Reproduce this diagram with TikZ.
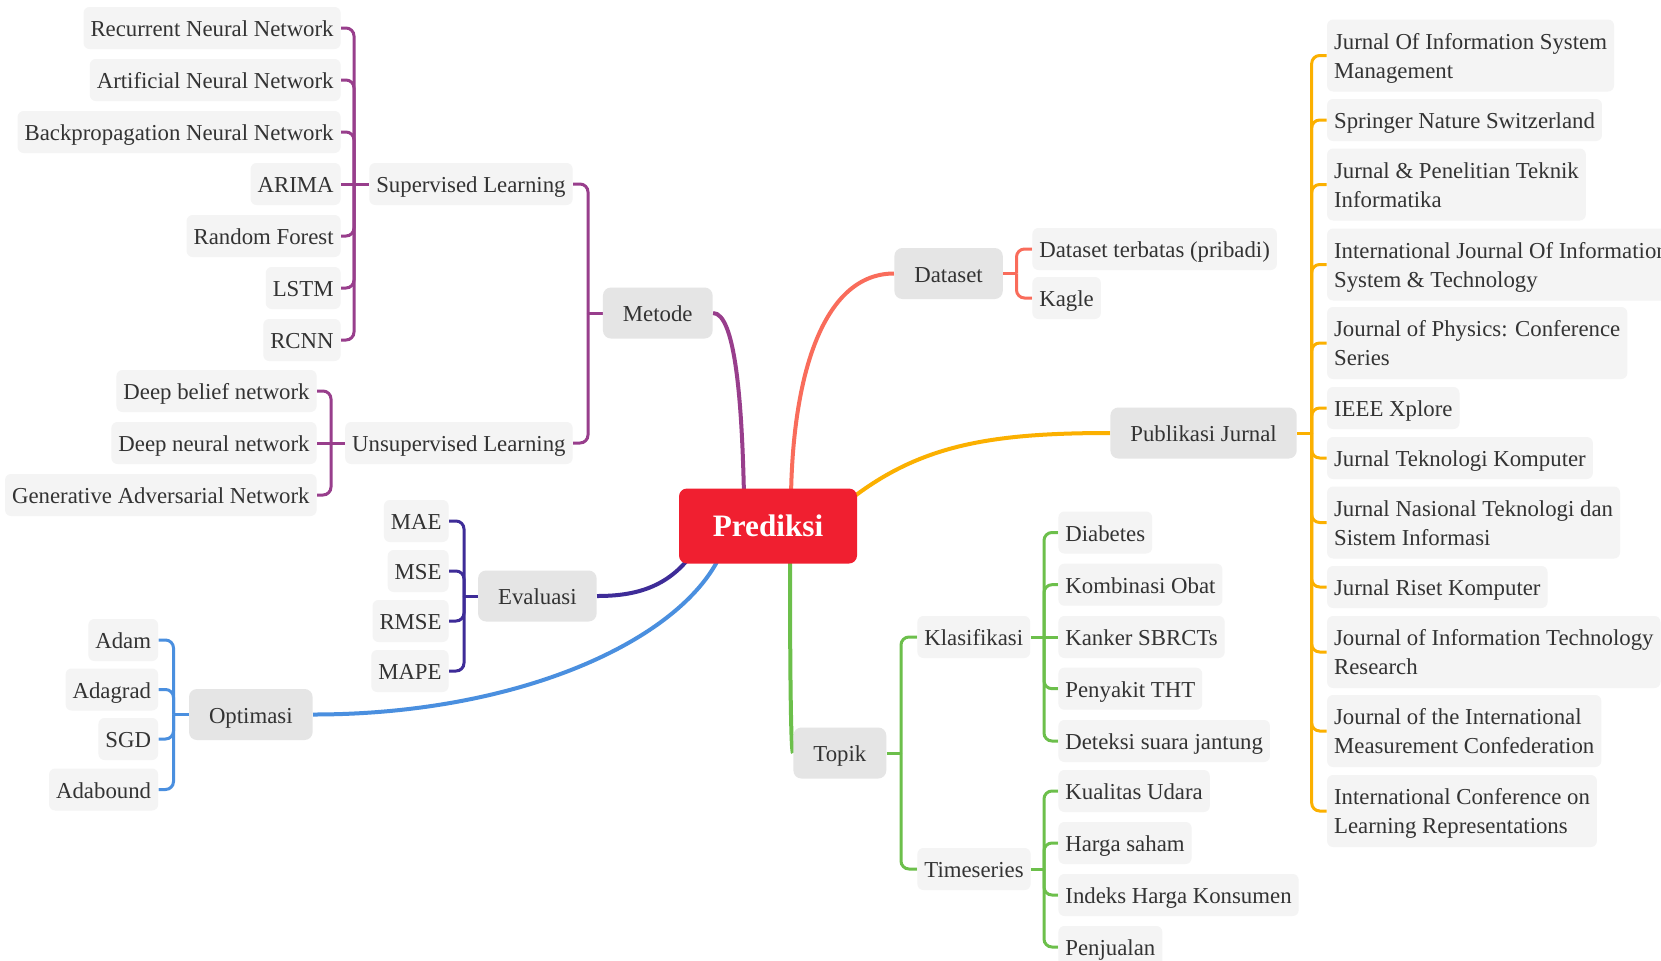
\documentclass[tikz,border=0pt]{standalone}
\usepackage{fontspec}
\setmainfont{Liberation Serif}
\usetikzlibrary{backgrounds}
\definecolor{txt}{HTML}{333333}
\definecolor{leafbg}{HTML}{F4F4F4}
\definecolor{mainbg}{HTML}{E5E5E5}
\definecolor{rootred}{HTML}{F01F30}
\definecolor{cmet}{HTML}{983E8C}
\definecolor{ceva}{HTML}{3E2C98}
\definecolor{copt}{HTML}{4A8FDF}
\definecolor{cdat}{HTML}{F96C5B}
\definecolor{cpub}{HTML}{FBB000}
\definecolor{ctop}{HTML}{6CBF4B}
\newcommand{\mytopstrut}{\rule{0pt}{10.5pt}}
\newcommand{\mybotstrut}{\rule[-2.5pt]{0pt}{2.5pt}}
\tikzset{
  leaf/.style={fill=leafbg, rounded corners=3pt, inner xsep=3.5pt, inner ysep=0pt,
    minimum height=21pt, text height=10pt, text depth=1.5pt, text=txt,
    font=\fontsize{11.4}{14.5}\selectfont},
  leaftwo/.style={fill=leafbg, rounded corners=3pt, inner xsep=3.5pt, inner ysep=0pt,
    minimum height=36pt, align=left, text=txt, font=\fontsize{11.4}{14.5}\selectfont},
  topic/.style={fill=mainbg, rounded corners=4pt, inner xsep=10pt, inner ysep=0pt,
    minimum height=25.5pt, text height=10pt, text depth=1.5pt, text=txt,
    font=\fontsize{11.4}{14.5}\selectfont},
  rootbox/.style={fill=rootred, rounded corners=4pt, minimum width=89pt, minimum height=37.5pt,
    inner sep=0pt, text=white, font=\fontsize{15.6}{18}\selectfont\bfseries,
    text height=12pt, text depth=1.5pt},
  branch/.style={line width=2pt},
  twig/.style={line width=1.5pt, rounded corners=4pt},
}
\begin{document}
\begin{tikzpicture}[x=0.5pt,y=-0.5pt]
\useasboundingbox (0,0) rectangle (1661,960);
\clip (0,0) rectangle (1661,960);

% root
\node[rootbox] (root) at (768,526) {Prediksi};

% Metode subtree
\node[topic, anchor=east] (metode) at (713,313) {Metode};
\node[leaf, anchor=east] (sup) at (573,184) {Supervised Learning};
\node[leaf, anchor=east] (unsup) at (573,443) {Unsupervised Learning};
\node[leaf, anchor=east] (rnn) at (341,28) {Recurrent Neural Network};
\node[leaf, anchor=east] (ann) at (341,80) {Artificial Neural Network};
\node[leaf, anchor=east] (bpnn) at (341,132) {Backpropagation Neural Network};
\node[leaf, anchor=east] (arima) at (341,184) {ARIMA};
\node[leaf, anchor=east] (rf) at (341,236) {Random Forest};
\node[leaf, anchor=east] (lstm) at (341,288) {LSTM};
\node[leaf, anchor=east] (rcnn) at (341,340) {RCNN};
\node[leaf, anchor=east] (dbn) at (317,391) {Deep belief network};
\node[leaf, anchor=east] (dnn) at (317,443) {Deep neural network};
\node[leaf, anchor=east] (gan) at (317,495) {Generative Adversarial Network};
\coordinate (bS) at (354,184);
\coordinate (bU) at (331,443);
\coordinate (bM) at (588,313);

% Evaluasi subtree
\node[topic, anchor=east] (eval) at (597,596) {Evaluasi};
\node[leaf, anchor=east] (mae) at (449,521) {MAE};
\node[leaf, anchor=east] (mse) at (449,571) {MSE};
\node[leaf, anchor=east] (rmse) at (449,621) {RMSE};
\node[leaf, anchor=east] (mape) at (449,671) {MAPE};
\coordinate (bE) at (464,596);

% Optimasi subtree
\node[topic, anchor=east] (opt) at (313,714.5) {Optimasi};
\node[leaf, anchor=east] (adam) at (158.5,640) {Adam};
\node[leaf, anchor=east] (adagrad) at (158.5,689.5) {Adagrad};
\node[leaf, anchor=east] (sgd) at (158.5,739) {SGD};
\node[leaf, anchor=east] (adabound) at (158.5,789.5) {Adabound};
\coordinate (bO) at (173.5,714.5);

% Dataset subtree
\node[topic, anchor=west] (data) at (894,273.5) {Dataset};
\node[leaf, anchor=west] (dtb) at (1032,249) {Dataset terbatas (pribadi)};
\node[leaf, anchor=west] (kagle) at (1032,298) {Kagle};
\coordinate (bD) at (1016.5,273.5);

% Publikasi subtree
\node[topic, anchor=west] (pub) at (1110,433) {Publikasi Jurnal};
\node[leaftwo, anchor=west] (j1) at (1326.7,55.5) {\mytopstrut Jurnal Of Information System\\Management\mybotstrut};
\node[leaf, anchor=west] (j2) at (1326.7,120) {Springer Nature Switzerland};
\node[leaftwo, anchor=west] (j3) at (1326.7,184.5) {\mytopstrut Jurnal \& Penelitian Teknik\\Informatika\mybotstrut};
\node[leaftwo, anchor=west] (j4) at (1326.7,264.5) {\mytopstrut International Journal Of Information\\System \& Technology\mybotstrut};
\node[leaftwo, anchor=west] (j5) at (1326.7,343) {\mytopstrut Journal of Physics: Conference\\Series\mybotstrut};
\node[leaf, anchor=west] (j6) at (1326.7,408) {IEEE Xplore};
\node[leaf, anchor=west] (j7) at (1326.7,458) {Jurnal Teknologi Komputer};
\node[leaftwo, anchor=west] (j8) at (1326.7,522.5) {\mytopstrut Jurnal Nasional Teknologi dan\\Sistem Informasi\mybotstrut};
\node[leaf, anchor=west] (j9) at (1326.7,587) {Jurnal Riset Komputer};
\node[leaftwo, anchor=west] (j10) at (1326.7,652) {\mytopstrut Journal of Information Technology\\Research\mybotstrut};
\node[leaftwo, anchor=west] (j11) at (1326.7,731) {\mytopstrut Journal of the International\\Measurement Confederation\mybotstrut};
\node[leaftwo, anchor=west] (j12) at (1326.7,811) {\mytopstrut International Conference on\\Learning Representations\mybotstrut};
\coordinate (bP) at (1311.7,433);

% Topik subtree
\node[topic, anchor=west] (topik) at (793,753) {Topik};
\node[leaf, anchor=west] (klas) at (917,637) {Klasifikasi};
\node[leaf, anchor=west] (ts) at (917,869) {Timeseries};
\node[leaf, anchor=west] (diab) at (1058,532.5) {Diabetes};
\node[leaf, anchor=west] (obat) at (1058,584.7) {Kombinasi Obat};
\node[leaf, anchor=west] (kanker) at (1058,637) {Kanker SBRCTs};
\node[leaf, anchor=west] (tht) at (1058,688.7) {Penyakit THT};
\node[leaf, anchor=west] (jantung) at (1058,741) {Deteksi suara jantung};
\node[leaf, anchor=west] (udara) at (1058,791) {Kualitas Udara};
\node[leaf, anchor=west] (saham) at (1058,843) {Harga saham};
\node[leaf, anchor=west] (ihk) at (1058,895) {Indeks Harga Konsumen};
\node[leaf, anchor=west] (jual) at (1058,947) {Penjualan};
\coordinate (bT) at (901,753);
\coordinate (bK) at (1044,637);
\coordinate (bTs) at (1044,869);

\begin{pgfonlayer}{background}
\fill[white] (0,0) rectangle (1661,960);
% main branches
\draw[branch,cmet] (metode.east) .. controls (735,313) and (742,400) .. ([xshift=-12pt,yshift=-4pt]root.north);
\draw[branch,cdat] ([xshift=11.5pt,yshift=-4pt]root.north) .. controls (793,370) and (825,273.5) .. (data.west);
\draw[branch,cpub] ([xshift=-4pt,yshift=-6pt]root.north east) .. controls (920,445) and (990,433) .. (pub.west);
\draw[branch,ceva] ([xshift=6pt,yshift=4pt]root.south west) .. controls (665,590) and (630,596) .. (eval.east);
\draw[branch,copt] ([xshift=-24pt,yshift=4pt]root.south) .. controls (680,640) and (520,714.5) .. (opt.east);
\draw[branch,ctop] ([xshift=11pt,yshift=4pt]root.south) .. controls (790,680) and (791,753) .. (topik.west);

% Metode brackets
\draw[twig,cmet] (metode.west) -- (bM);
\foreach \n in {sup,unsup} \draw[twig,cmet] (bM) |- (\n.east);
\draw[twig,cmet] (sup.west) -- (bS) -- (arima.east);
\foreach \n in {rnn,ann,bpnn,rf,lstm,rcnn} \draw[twig,cmet] (bS) |- (\n.east);
\draw[twig,cmet] (unsup.west) -- (bU) -- (dnn.east);
\foreach \n in {dbn,gan} \draw[twig,cmet] (bU) |- (\n.east);

% Evaluasi
\draw[twig,ceva] (eval.west) -- (bE);
\foreach \n in {mae,mse,rmse,mape} \draw[twig,ceva] (bE) |- (\n.east);

% Optimasi
\draw[twig,copt] (opt.west) -- (bO);
\foreach \n in {adam,adagrad,sgd,adabound} \draw[twig,copt] (bO) |- (\n.east);

% Dataset
\draw[twig,cdat] (data.east) -- (bD);
\foreach \n in {dtb,kagle} \draw[twig,cdat] (bD) |- (\n.west);

% Publikasi
\draw[twig,cpub] (pub.east) -- (bP);
\foreach \n in {j1,j2,j3,j4,j5,j6,j7,j8,j9,j10,j11,j12} \draw[twig,cpub] (bP) |- (\n.west);

% Topik
\draw[twig,ctop] (topik.east) -- (bT);
\foreach \n in {klas,ts} \draw[twig,ctop] (bT) |- (\n.west);
\draw[twig,ctop] (klas.east) -- (bK) -- (kanker.west);
\foreach \n in {diab,obat,tht,jantung} \draw[twig,ctop] (bK) |- (\n.west);
\draw[twig,ctop] (ts.east) -- (bTs);
\foreach \n in {udara,saham,ihk,jual} \draw[twig,ctop] (bTs) |- (\n.west);
\end{pgfonlayer}
\end{tikzpicture}
\end{document}
